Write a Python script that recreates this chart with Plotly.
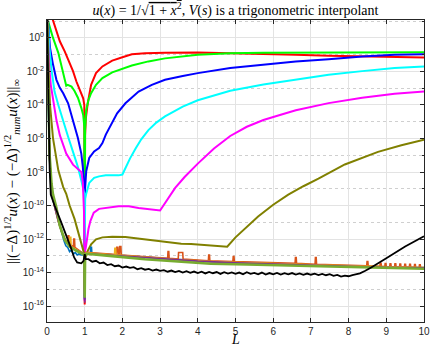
import numpy as np
import plotly.graph_objects as go

# values are stored as log10 of the error
red_x = [0.05, 0.16, 0.25, 0.34, 0.47, 0.6, 0.69, 0.78, 0.86, 0.92, 0.96, 0.99, 1.0, 1.01, 1.03, 1.08,
         1.17, 1.3, 1.47, 1.73, 2.0, 2.25, 2.6, 3.13, 4.0, 4.86, 5.74, 6.6, 7.47, 8.36, 9.22, 10.0]
red_log = [1.8, 0.99, 0.4, -0.2, -0.8, -1.45, -1.98, -2.6, -3.1, -3.4, -3.6, -4.0, -15.9, -5.8, -4.8, -3.9,
           -2.8, -2.1, -1.7, -1.35, -1.15, -0.98, -0.92, -0.88, -0.87, -0.9, -0.95, -1.0, -1.06, -1.11, -1.15, -1.17]

green_x = [0.02, 0.03, 0.1, 0.16, 0.3, 0.38, 0.47, 0.51, 0.55, 0.6, 0.65, 0.73, 0.82, 0.91, 0.96, 0.99, 1.0,
           1.01, 1.04, 1.1, 1.17, 1.3, 1.47, 1.73, 2.0, 2.25, 2.69, 3.13, 4.0, 4.86, 5.74, 7.47, 10.0]
green_log = [1.3, 1.0, 0.45, 0.0, -0.89, -1.59, -2.48, -2.85, -2.8, -2.85, -2.9, -3.17, -3.57, -4.17, -4.6, -5.3, -15.4,
             -5.5, -4.3, -3.7, -3.3, -2.8, -2.4, -2.05, -1.85, -1.65, -1.4, -1.22, -1.01, -0.92, -0.88, -0.85, -0.85]

blue_x = [0.01, 0.04, 0.08, 0.16, 0.25, 0.34, 0.43, 0.56, 0.69, 0.82, 0.91, 0.95, 0.99, 1.0, 1.01, 1.04, 1.12,
          1.25, 1.38, 1.47, 1.56, 1.69, 1.86, 2.08, 2.43, 2.78, 3.13, 3.6, 4.0, 4.86, 5.74, 6.6, 7.47, 8.36, 9.22, 10.0]
blue_log = [1.5, 0.5, -0.6, -1.59, -2.5, -2.98, -3.3, -3.9, -4.98, -5.97, -6.9, -7.7, -8.9, -15.6, -9.0, -7.96, -7.16,
            -6.77, -6.57, -6.27, -5.77, -5.18, -4.5, -3.9, -3.2, -2.8, -2.5, -2.27, -2.1, -1.8, -1.61, -1.41, -1.27, -1.11, -1.01, -0.97]

cyan_x = [0.02, 0.06, 0.12, 0.2, 0.3, 0.43, 0.56, 0.69, 0.82, 0.91, 0.99, 1.0, 1.01, 1.04, 1.12, 1.25, 1.38,
          1.56, 1.9, 2.0, 2.1, 2.2, 2.35, 2.5, 2.69, 2.9, 3.13, 3.6, 4.0, 4.86, 5.74, 6.6, 7.47, 8.36, 9.22, 10.0]
cyan_log = [1.2, -0.5, -1.9, -3.2, -4.0, -5.0, -5.9, -6.8, -7.7, -8.5, -9.3, -15.5, -9.6, -9.3, -8.65, -8.35, -8.26,
            -8.2, -8.2, -8.15, -7.65, -7.2, -6.6, -6.05, -5.5, -5.05, -4.68, -4.1, -3.72, -3.15, -2.78, -2.48, -2.2, -1.98, -1.8, -1.7]

magenta_x = [0.01, 0.05, 0.1, 0.16, 0.25, 0.34, 0.51, 0.69, 0.91, 0.95, 0.97, 0.98, 0.99, 1.0, 1.01, 1.03, 1.06,
             1.1, 1.15, 1.24, 1.38, 1.64, 1.9, 2.17, 2.43, 3.0, 3.2, 3.4, 3.65, 4.0, 4.43, 4.86, 5.3, 5.74, 6.2, 6.6,
             7.47, 8.36, 9.22, 10.0]
magenta_log = [1.2, -1.5, -2.8, -3.6, -4.9, -5.8, -6.9, -7.56, -8.0, -8.6, -9.4, -10.3, -12.0, -15.7, -12.7, -12.5, -12.0,
               -11.4, -10.93, -10.43, -10.2, -10.1, -10.04, -10.04, -10.15, -10.3, -9.6, -8.95, -8.3, -7.5, -6.6, -5.85, -5.3, -4.9, -4.58, -4.32,
               -3.89, -3.57, -3.33, -3.2]

olive_x = [0.01, 0.04, 0.08, 0.16, 0.3, 0.43, 0.51, 0.6, 0.73, 0.86, 0.95, 0.99, 1.0, 1.01, 1.04, 1.08, 1.17, 1.3,
           1.47, 1.73, 2.08, 2.69, 2.95, 3.56, 3.82, 4.78, 5.0, 5.3, 5.6, 6.0, 6.4, 6.8, 7.2, 7.9, 8.3, 8.78, 9.4, 10.0]
olive_log = [1.2, -2.0, -4.0, -6.0, -7.9, -8.9, -9.3, -10.0, -10.8, -11.8, -12.6, -12.9, -15.0, -13.0, -13.0, -12.7, -12.32, -12.02,
             -11.9, -11.86, -11.88, -12.05, -12.1, -12.28, -12.3, -12.46, -11.9, -11.25, -10.65, -9.95, -9.35, -8.85, -8.4, -7.55, -7.2, -6.8, -6.4, -6.07]

black_x = [0.0, 0.02, 0.04, 0.07, 0.1, 0.2, 0.36, 0.5, 0.63, 0.72, 0.8, 0.91, 0.97, 1.0, 1.03,
           1.1, 1.2, 1.3, 1.4, 1.5, 1.6, 1.7, 1.8, 1.9, 2.0, 2.1, 2.2, 2.3, 2.4, 2.5, 2.6, 2.7, 2.8, 2.9,
           3.0, 3.1, 3.2, 3.3, 3.4, 3.5, 3.6, 3.7, 3.8, 3.9, 4.0, 4.1, 4.2, 4.3, 4.4, 4.5, 4.6, 4.7, 4.8, 4.9,
           5.0, 5.1, 5.2, 5.3, 5.4, 5.5, 5.6, 5.7, 5.8, 5.9, 6.0, 6.1, 6.2, 6.3, 6.4, 6.5, 6.6, 6.7, 6.8, 6.9,
           7.0, 7.1, 7.2, 7.3, 7.4, 7.5, 7.6, 7.7, 7.8, 7.9, 8.0, 8.1, 8.2, 8.3, 8.43, 8.6, 9.0, 9.5, 10.0]
black_log = [1.5, -2.0, -5.0, -7.8, -9.35, -10.0, -10.9, -11.7, -12.5, -13.1, -13.4, -13.45, -13.3, -12.9, -13.2,
             -13.2, -13.35, -13.3, -13.45, -13.4, -13.55, -13.5, -13.62, -13.58, -13.7, -13.64, -13.72, -13.68, -13.8, -13.74, -13.83, -13.78, -13.88, -13.82,
             -13.9, -13.86, -13.95, -13.88, -13.97, -13.9, -14.0, -13.92, -14.02, -13.94, -14.03, -13.95, -14.05, -13.96, -14.04, -13.97, -14.08, -13.98, -14.06, -13.99,
             -14.08, -14.0, -14.1, -13.98, -14.08, -14.02, -14.1, -14.0, -14.12, -14.03, -14.1, -14.02, -14.12, -14.04, -14.11, -14.03, -14.12, -14.05, -14.14, -14.06,
             -14.13, -14.07, -14.15, -14.08, -14.16, -14.1, -14.2, -14.14, -14.24, -14.18, -14.22, -14.15, -14.12, -14.05, -13.91, -13.7, -13.15, -12.45, -11.83]

# round-off level curves (default colour order)
nblue_x = [0.0, 0.03, 0.07, 0.12, 0.21, 0.3, 0.38, 0.45, 0.5, 0.55, 0.6, 0.65, 0.7, 0.75, 0.8, 0.85, 0.9, 0.99, 1.0,
           1.01, 1.04, 1.15, 1.16, 1.18, 1.19, 1.5, 2.0, 2.5, 3.0, 3.5, 4.0, 4.5, 5.0, 5.5, 6.0, 6.5, 7.0, 7.5, 8.0, 8.5, 9.0, 9.5, 10.0]
nblue_log = [1.5, -3.8, -7.3, -9.3, -10.14, -10.93, -11.6, -12.1, -12.4, -12.5, -12.75, -12.65, -12.9, -12.8, -12.95, -12.88, -12.95, -12.95, -15.6,
             -13.0, -12.85, -12.85, -12.5, -12.5, -12.85, -12.9, -12.98, -13.1, -13.18, -13.25, -13.32, -13.38, -13.42, -13.46, -13.48, -13.5, -13.54, -13.58, -13.62, -13.64, -13.66, -13.68, -13.7]

norange_x = [0.0, 0.03, 0.07, 0.12, 0.2, 0.3, 0.4, 0.5, 0.55, 0.56, 0.58, 0.59, 0.65, 0.7, 0.71, 0.73, 0.74, 0.8, 0.9, 0.99, 1.0,
             1.01, 1.04, 1.5, 1.84, 1.85, 1.88, 1.89, 1.92, 1.93, 1.96, 1.97, 2.5, 3.2, 3.21, 3.23, 3.24, 3.48, 3.49, 3.6, 3.61,
             4.28, 4.29, 4.31, 4.32, 4.93, 4.94, 4.96, 4.97, 6.58, 6.59, 6.61, 6.62, 7.11, 7.12, 7.14, 7.15, 8.48, 8.49, 8.51, 8.52,
             8.83, 8.84, 8.86, 8.87, 8.96, 8.97, 8.99, 9.0, 9.09, 9.1, 9.12, 9.13, 9.22, 9.23, 9.25, 9.26, 9.35, 9.36, 9.38, 9.39,
             9.48, 9.49, 9.51, 9.52, 9.61, 9.62, 9.64, 9.65, 9.74, 9.75, 9.77, 9.78, 9.87, 9.88, 9.9, 9.91, 10.0]
norange_log = [1.5, -3.6, -7.1, -9.0, -10.0, -10.9, -11.6, -12.1, -12.2, -11.8, -11.8, -12.3, -12.4, -12.45, -12.0, -12.0, -12.5, -12.6, -12.8, -12.9, -15.4,
               -12.95, -12.8, -12.85, -12.92, -12.5, -12.5, -12.93, -12.93, -12.45, -12.45, -12.95, -13.05, -13.15, -12.75, -12.75, -13.15, -13.2, -12.8, -12.8, -13.2,
               -13.3, -12.95, -12.95, -13.3, -13.35, -13.05, -13.05, -13.35, -13.45, -13.1, -13.1, -13.45, -13.5, -13.1, -13.1, -13.5, -13.6, -13.35, -13.35, -13.6,
               -13.63, -13.45, -13.45, -13.63, -13.64, -13.46, -13.46, -13.64, -13.65, -13.47, -13.47, -13.65, -13.66, -13.48, -13.48, -13.66, -13.67, -13.49, -13.49, -13.67,
               -13.68, -13.5, -13.5, -13.68, -13.69, -13.51, -13.51, -13.69, -13.7, -13.52, -13.52, -13.7, -13.71, -13.53, -13.53, -13.71, -13.7]

nyellow_x = [0.0, 0.03, 0.07, 0.12, 0.2, 0.3, 0.4, 0.5, 0.6, 0.61, 0.63, 0.64, 0.8, 0.99, 1.0, 1.01, 1.04, 1.5, 1.79, 1.8, 1.82, 1.83,
             2.5, 3.5, 4.5, 5.5, 6.5, 7.5, 8.5, 9.5, 10.0]
nyellow_log = [1.5, -3.7, -7.2, -9.1, -10.05, -10.95, -11.65, -12.15, -12.4, -11.9, -11.9, -12.45, -12.65, -12.9, -15.3, -12.95, -12.82, -12.88, -12.95, -12.55, -12.55, -12.95,
               -13.08, -13.24, -13.36, -13.44, -13.5, -13.57, -13.62, -13.67, -13.7]

npurple_x = [0.0, 0.03, 0.07, 0.12, 0.2, 0.3, 0.4, 0.5, 0.7, 0.99, 1.0, 1.01, 1.04, 2.0, 3.0, 4.0, 5.0, 6.0, 7.0, 8.0, 9.0, 10.0]
npurple_log = [1.5, -3.7, -7.2, -9.1, -10.05, -10.95, -11.65, -12.15, -12.6, -12.9, -15.8, -12.98, -12.86, -13.0, -13.18, -13.32, -13.42, -13.5, -13.57, -13.63, -13.68, -13.72]

ngreen_x = [0.0, 0.03, 0.07, 0.12, 0.16, 0.25, 0.34, 0.47, 0.6, 0.78, 0.9, 0.99, 1.0, 1.01, 1.04, 1.3, 1.73, 2.6, 3.47,
            4.34, 5.3, 6.2, 7.04, 8.0, 8.77, 10.0]
ngreen_log = [1.5, -3.5, -7.0, -8.7, -9.35, -10.14, -11.2, -12.05, -12.45, -12.7, -12.82, -12.92, -15.5, -13.0, -12.88, -12.92, -13.02, -13.21, -13.35,
              -13.47, -13.52, -13.57, -13.62, -13.67, -13.71, -13.77]

ytick_exp = [-16, -14, -12, -10, -8, -6, -4, -2, 0]
yminor_exp = [-17, -15, -13, -11, -9, -7, -5, -3, -1, 1]
xticks = [0, 1, 2, 3, 4, 5, 6, 7, 8, 9, 10]

AX = "#262626"
GRID = "#e3e3e3"

fig = go.Figure()


def add_line(xs, logs, color, width=2.0):
    fig.add_trace(go.Scatter(
        x=xs, y=10.0 ** np.array(logs), mode="lines",
        line={"color": color, "width": width}, showlegend=False, hoverinfo="skip",
    ))


add_line(red_x, red_log, "#ff0000")
add_line(green_x, green_log, "#00ff00")
add_line(blue_x, blue_log, "#0000ff")
add_line(cyan_x, cyan_log, "#00ffff")
add_line(magenta_x, magenta_log, "#ff00ff")
add_line(olive_x, olive_log, "#808000")
add_line(nblue_x, nblue_log, "#0072bd", 1.6)
add_line(norange_x, norange_log, "#d95319", 1.6)
add_line(nyellow_x, nyellow_log, "#edb120", 1.6)
add_line(npurple_x, npurple_log, "#7e2f8e", 1.6)
add_line(ngreen_x, ngreen_log, "#77ac30", 2.6)
add_line(black_x, black_log, "#000000", 1.8)

fig.update_xaxes(
    range=[0, 10], tickvals=xticks, ticks="inside", ticklen=4, tickcolor=AX,
    showline=True, linecolor=AX, linewidth=1, mirror="allticks",
    showgrid=True, gridcolor=GRID, gridwidth=1, zeroline=False,
    tickfont={"family": "Liberation Sans, Arial", "size": 10, "color": AX},
)
fig.update_yaxes(
    type="log", range=[-16.95, 1.07],
    tickvals=[10.0 ** e for e in ytick_exp],
    ticktext=[f"10<sup>{e}</sup>" for e in ytick_exp],
    ticks="inside", ticklen=4, tickcolor=AX,
    showline=True, linecolor=AX, linewidth=1, mirror="allticks",
    showgrid=True, gridcolor=GRID, gridwidth=1, zeroline=False,
    tickfont={"family": "Liberation Sans, Arial", "size": 10, "color": AX},
    minor={"tickvals": [10.0 ** e for e in yminor_exp], "showgrid": True,
           "gridcolor": "#cfcfcf", "griddash": "dot", "ticks": "inside", "ticklen": 2, "tickcolor": AX},
)

serif = "Liberation Serif, DejaVu Serif, serif"
fig.update_layout(
    width=436, height=350,
    margin={"l": 47, "r": 6, "t": 20, "b": 28},
    paper_bgcolor="white", plot_bgcolor="white",
    title={
        "text": "<i>u</i>(<i>x</i>) = 1/√<span style='text-decoration:overline'>1 + <i>x</i><sup>2</sup></span>, "
                "<i>V</i>(<i>s</i>) is a trigonometric interpolant",
        "x": 0.5, "xref": "paper", "xanchor": "center",
        "y": 1 - 10 / 350, "yanchor": "middle",
        "font": {"family": serif, "size": 14, "color": "black"},
    },
)
fig.add_annotation(
    text="<i>L</i>", xref="paper", yref="paper", x=0.5, y=-0.088,
    xanchor="center", yanchor="bottom", showarrow=False,
    font={"family": serif, "size": 14, "color": "black"},
)
fig.add_annotation(
    text="||(−Δ)<sup>1/2</sup><i>u</i>(<i>x</i>) − (−Δ)<sup>1/2</sup><sub><i>num</i></sub><i>u</i>(<i>x</i>)||<sub>∞</sub>",
    xref="paper", yref="paper", x=-0.093, y=0.5, textangle=-90,
    xanchor="center", yanchor="middle", showarrow=False,
    font={"family": serif, "size": 15, "color": "black"},
)

# the page's default 8px body margin would shift the figure
fig.write_html("out.html", config={"displayModeBar": False},
               post_script="document.body.style.margin='0';")
